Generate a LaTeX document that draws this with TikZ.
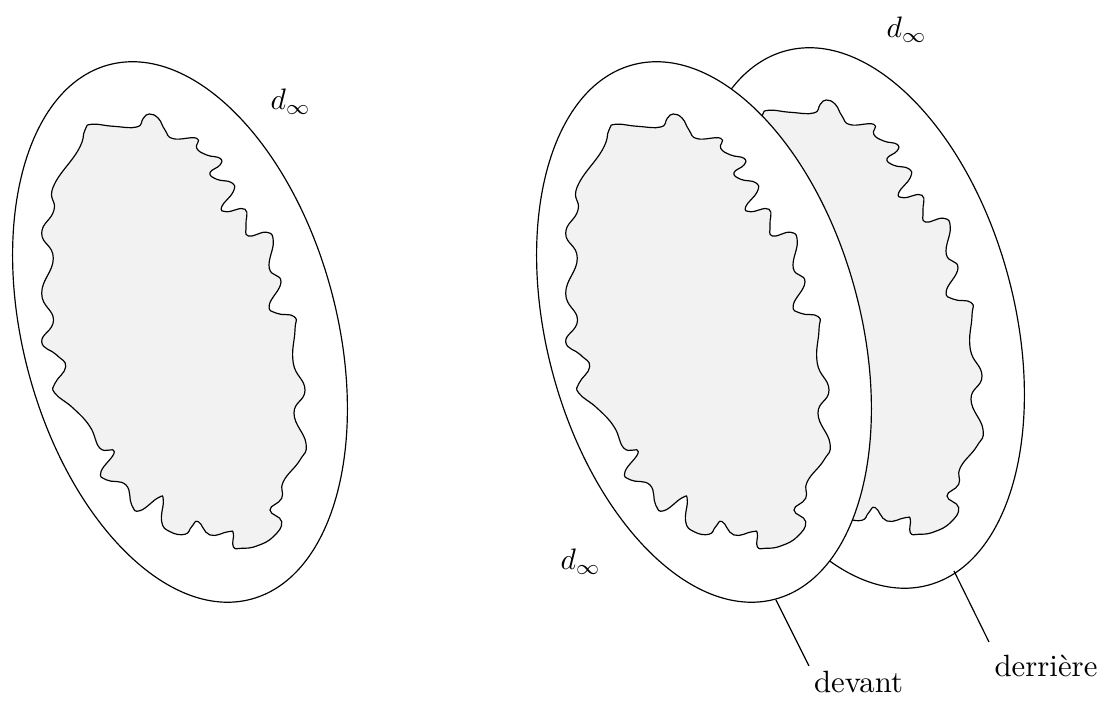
\documentclass[tikz,border=0pt]{standalone}
\usepackage{tikz}

\newcommand{\bulle}{%
    \filldraw[bord] plot[smooth cycle, tension=0.8] coordinates {
        (91.7,124.3) (113.3,126.3) (136.7,127) (143.3,118.3) (149.3,114) (158.3,118.3)
        (165,130) (173.3,138.7) (196.7,138.3) (196.7,148.3) (206.7,155) (220,158.3)
        (220,165) (210,172.7) (216.7,179.3) (231.7,182.7) (233.3,191.7) (221.7,206.7)
        (226.7,211.7) (245,209.3) (246,225) (248.3,236) (266.7,232.3) (273.3,241.7)
        (269.3,268.3) (281,281.7) (269.3,305) (276.7,313.3) (294.3,316.7) (295,330)
        (293.3,363.3) (305,390) (294,413.3) (306,443.3) (300,460) (283.3,481.7)
        (281.7,498.3) (270,510) (281.7,521.7) (273.3,536.7) (256.7,546) (241.7,548.3)
        (233.3,546.7) (233.3,533.3) (228.3,531.7) (210,535) (198.3,521.7) (191.7,526.7)
        (185,534.3) (170,531.7) (161.7,521.7) (163.3,500) (158.3,497.7) (140,510.7)
        (131.7,505) (126,485) (106.7,480) (101,471.7) (114.3,451.7) (100,448.3)
        (90,426.7) (73.3,408.3) (55,393.3) (55,383.3) (65.7,366.7) (56.7,355)
        (41.7,341.7) (53.5,320) (41.7,293.3) (53.3,258.3) (41.7,233.3) (54,210)
        (53.3,186.7) (78.3,150) (85,130)
    };
}

\begin{document}
\begin{tikzpicture}[
        x=0.338pt, y=-0.338pt,
        bord/.style={draw=black, fill=black!5},
        contour/.style={draw=black, fill=white},
        legende/.style={anchor=base, scale=1.04, inner sep=0pt}
    ]
        \useasboundingbox (0,0) rectangle (1104,709);

        % Gauche
        \draw[contour] (180,332) ellipse [x radius=156.8, y radius=276.5, rotate=14.9];
        \bulle
        \node[anchor=base west, inner sep=0pt] (dgauche) at (270,110) {$d_\infty$};

        % Derriere
        \begin{scope}[shift={(677,-14)}]
            \draw[contour] (180,332) ellipse [x radius=156.8, y radius=276.5, rotate=14.9];
            \bulle
        \end{scope}

        % Devant
        \begin{scope}[shift={(524,0)}]
            \draw[contour] (180,332) ellipse [x radius=156.8, y radius=276.5, rotate=14.9];
            \bulle
        \end{scope}

        % Labels
        \node[anchor=base west, inner sep=0pt] (dhaut) at (886,38) {$d_\infty$};
        \node[anchor=base west, inner sep=0pt] (dbas) at (560,570) {$d_\infty$};
        \node[legende] (devant) at (858.5,693) {devant};
        \node[legende] (derriere) at (1046,677) {derrière};

        % Traits
        \coordinate (piedavant) at (776,600);
        \coordinate (finavant) at (809,666);
        \coordinate (piedarriere) at (954,571);
        \coordinate (finarriere) at (989,642);
        \draw (piedavant) -- (finavant);
        \draw (piedarriere) -- (finarriere);

    \end{tikzpicture}
\end{document}
